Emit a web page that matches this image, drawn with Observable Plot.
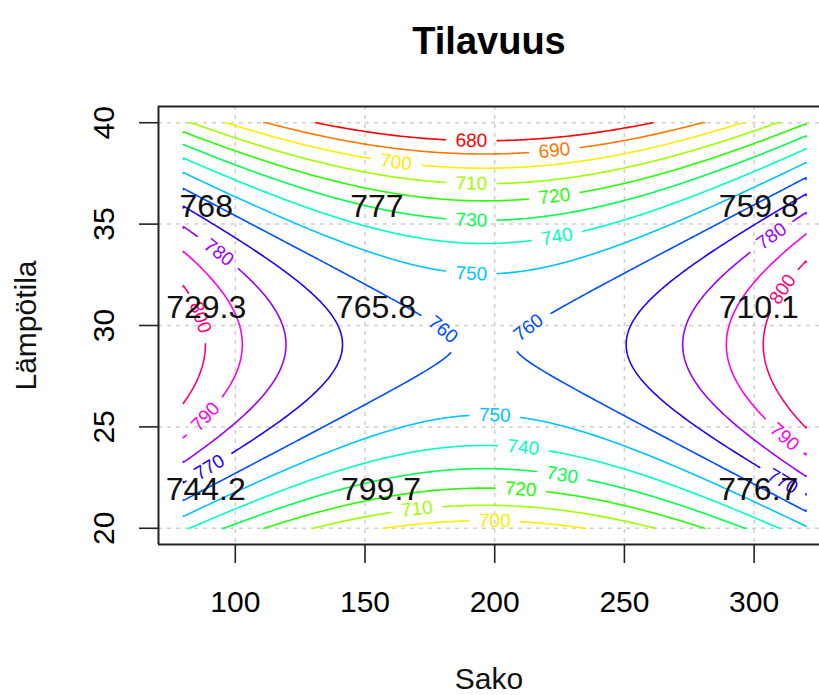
<!DOCTYPE html>
<html><head><meta charset="utf-8">
<script src="https://cdn.jsdelivr.net/npm/d3@7"></script>
<script src="https://cdn.jsdelivr.net/npm/@observablehq/plot@0.6"></script>
<style>body{margin:0;background:#fff}</style>
</head><body><div id="chart"></div>
<script>
// ---- data ----
const levels = [680,690,700,710,720,730,740,750,760,770,780,790,800];
const levelColors = ["#FF0000","#FF7600","#FFEC00","#9DFF00","#27FF00","#00FF4E","#00FFC4","#00C4FF","#004EFF","#2700FF","#9D00FF","#FF00EC","#FF0076"];
// fitted quadratic response surface
// Tilavuus = b0 + b1*(T-Tc) + b2*(T-Tc)^2 + b3*(S-Sc)^2
const surfaceCenter = [196, 30];               // [Sako, Lämpötila]
const surfaceCoef = [758.85, -1.475, -0.788, 0.0035];
const sakoRange = [80, 320];
const tempRange = [20, 40];
const xDomain = [70.4, 325.2];
const yDomain = [19.2, 40.8];
const xTicks = [100,150,200,250,300];
const yTicks = [20,25,30,35,40];
// observed values written at design points
const pointSako  = [88.8, 154.6, 301.8, 88.8, 154.2, 301.8, 88.6, 156.2, 301.6];
const pointTemp  = [35.87,35.87,35.87,30.86,30.86,30.86,21.88,21.88,21.88];
const pointValue = ["768","777","759.8","729.3","765.8","710.1","744.2","799.7","776.7"];
// contour label positions (approx)
const labelLevel = [680,690,700,710,720,730,740,750, 750,740,730,720,710,700, 760,760,770,770,780,780,790,790,800,800];
const labelSako  = [191.4,223.4,162.5,191,223.4,191,223.4,191, 200.2,210.6,225.7,210.3,169.8,200.2, 179.4,213,90,311.6,93,307,87.3,312.4,83.4,311.6];
const labelTemp  = [39.08,38.67,38.05,37.09,36.4,35.3,34.57,32.7, 25.6,24.0,22.57,21.9,20.94,20.35, 29.63,29.8,23.1,22.5,33.5,34.37,25.6,24.6,30.25,31.7];

const FONT = "'Liberation Sans', Arial, Helvetica, sans-serif";

function makePlot(marks) {
  return Plot.plot({
    width: 819, height: 695,
    marginLeft: 158, marginRight: 0, marginTop: 106, marginBottom: 151,
    x: {domain: xDomain},
    y: {domain: yDomain},
    color: {type: "ordinal", domain: levels, range: levelColors},
    style: {fontFamily: FONT, background: "#fff", color: "#000"},
    marks
  });
}

// ---- surface grid & contour lines ----
const dS = 1, dT = 0.1;
const sakoGrid = d3.range(sakoRange[0], sakoRange[1] + dS / 2, dS);
const tempGrid = d3.range(tempRange[0], tempRange[1] + dT / 2, dT);
const nx = sakoGrid.length, ny = tempGrid.length;
const surface = (s, t) => {
  const u = t - surfaceCenter[1], v = s - surfaceCenter[0];
  return surfaceCoef[0] + surfaceCoef[1] * u + surfaceCoef[2] * u * u + surfaceCoef[3] * v * v;
};
const values = new Float64Array(nx * ny);
for (let j = 0; j < ny; j++) for (let i = 0; i < nx; i++) values[j * nx + i] = surface(sakoGrid[i], tempGrid[j]);
const polys = d3.contours().size([nx, ny]).thresholds(levels)(values);

const toS = X => sakoRange[0] + (Math.min(Math.max(X, 0.5), nx - 0.5) - 0.5) * dS;
const toT = Y => tempRange[0] + (Math.min(Math.max(Y, 0.5), ny - 0.5) - 0.5) * dT;
const onB = ([X, Y]) => X <= 0 || X >= nx || Y <= 0 || Y >= ny;

const base = makePlot([]);
const sx = base.scale("x").apply, sy = base.scale("y").apply;

const segs = [];
for (const c of polys) {
  for (const poly of c.coordinates) for (const ring of poly) {
    const rs = [];
    let cur = null, firstBroken = false, lastBroken = false;
    for (let k = 1; k < ring.length; k++) {
      const p = ring[k - 1], q = ring[k];
      if (onB(p) && onB(q)) { cur = null; if (k === 1) firstBroken = true; if (k === ring.length - 1) lastBroken = true; continue; }
      if (!cur) { cur = [p]; rs.push(cur); }
      cur.push(q);
    }
    if (rs.length > 1 && !firstBroken && !lastBroken) {
      const last = rs.pop();
      rs[0] = last.concat(rs[0].slice(1));
    }
    for (const s of rs) {
      const pts = s.map(([X, Y]) => [toS(X), toT(Y)]);
      segs.push({level: c.value, pts, px: pts.map(([a, b]) => [sx(a), sy(b)]), cuts: []});
    }
  }
}

function walk(px, k, dir, dist) {
  let acc = 0, i = k;
  while (i + dir >= 0 && i + dir < px.length) {
    const a = px[i], b = px[i + dir];
    acc += Math.hypot(b[0] - a[0], b[1] - a[1]);
    i += dir;
    if (acc >= dist) break;
  }
  return px[i];
}

const labelRows = [];
labelLevel.forEach((lev, i) => {
  const tx = sx(labelSako[i]), ty = sy(labelTemp[i]);
  let best = null;
  for (const s of segs) if (s.level === lev) s.px.forEach((p, k) => {
    const d = (p[0] - tx) ** 2 + (p[1] - ty) ** 2;
    if (!best || d < best.d) best = {d, s, k};
  });
  if (!best) return;
  const s = best.s, c = s.px[best.k];
  const a = walk(s.px, best.k, -1, 14), b = walk(s.px, best.k, 1, 14);
  let ang = Math.atan2(b[1] - a[1], b[0] - a[0]) * 180 / Math.PI;
  if (ang > 90) ang -= 180;
  if (ang <= -90) ang += 180;
  const r = ang * Math.PI / 180;
  s.cuts.push({c, u: [Math.cos(r), Math.sin(r)]});
  labelRows.push({x: s.pts[best.k][0], y: s.pts[best.k][1], text: String(lev), level: lev, rotate: ang});
});

const halfGap = 25, perpMax = 12;
const lineRows = [];
let sid = 0;
for (const s of segs) {
  let open = false;
  s.pts.forEach((p, k) => {
    const q = s.px[k];
    const cut = s.cuts.some(({c, u}) => {
      const dx = q[0] - c[0], dy = q[1] - c[1];
      const al = dx * u[0] + dy * u[1], pe = -dx * u[1] + dy * u[0];
      return Math.abs(al) < halfGap && Math.abs(pe) < perpMax;
    });
    if (cut) { open = false; return; }
    if (!open) { sid++; open = true; }
    lineRows.push({x: p[0], y: p[1], level: s.level, id: sid});
  });
}

const pointRows = pointValue.map((v, i) => ({x: pointSako[i], y: pointTemp[i], text: v}));

const chart = makePlot([
  Plot.gridX(xTicks, {stroke: "#cfcfcf", strokeOpacity: 1, strokeDasharray: "4,5", strokeWidth: 1.5}),
  Plot.gridY(yTicks, {stroke: "#cfcfcf", strokeOpacity: 1, strokeDasharray: "4,5", strokeWidth: 1.5}),
  Plot.line(lineRows, {x: "x", y: "y", z: "id", stroke: "level", strokeWidth: 1.6}),
  Plot.text(labelRows, {x: "x", y: "y", text: "text", fill: "level", rotate: "rotate", fontSize: 19, textAnchor: "middle", lineAnchor: "middle"}),
  Plot.text(pointRows, {x: "x", y: "y", text: "text", fill: "#111", fontSize: 32, textAnchor: "middle", lineAnchor: "middle"}),
  Plot.ruleY([yDomain[0], yDomain[1]], {stroke: "#222", strokeWidth: 2}),
  Plot.ruleX([xDomain[0]], {stroke: "#222", strokeWidth: 2}),
  Plot.axisX(xTicks, {tickSize: 19, tickPadding: 27, fontSize: 30, label: null, strokeWidth: 1.6, stroke: "#222"}),
  Plot.axisY(yTicks, {tickSize: 19, tickRotate: -90, tickPadding: 26, fontSize: 30, label: null, strokeWidth: 1.6, stroke: "#222"}),
  Plot.text(["Tilavuus"], {text: d => d, frameAnchor: "top", dy: -53, lineAnchor: "bottom", fontSize: 38, fontWeight: "bold", fill: "#000"}),
  Plot.text(["Sako"], {text: d => d, frameAnchor: "bottom", dy: 144, lineAnchor: "bottom", fontSize: 30, fill: "#111"}),
  Plot.text(["Lämpötila"], {text: d => d, frameAnchor: "left", dx: -123, rotate: -90, lineAnchor: "bottom", textAnchor: "middle", fontSize: 30, fill: "#111"})
]);
document.getElementById("chart").appendChild(chart);
</script>
</body></html>
